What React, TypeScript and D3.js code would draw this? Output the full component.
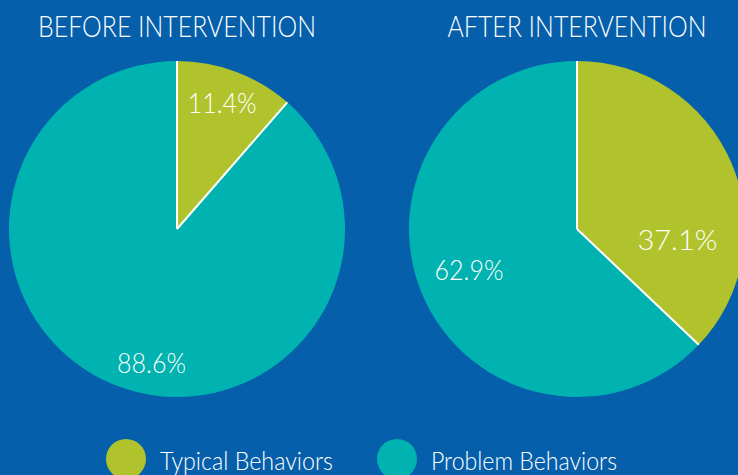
import React, { useEffect, useRef } from "react";
import * as d3 from "d3";

// data
const categories = ["Typical Behaviors", "Problem Behaviors"];
const beforeValues = [11.4, 88.6];
const afterValues = [37.1, 62.9];
const panelTitles = ["BEFORE INTERVENTION", "AFTER INTERVENTION"];

const W = 738;
const H = 475;
const BG = "#055fab";
const colors = ["#b1c32c", "#00b2b0"];
const FONT = "Lato, 'Open Sans', sans-serif";

// labels were hand placed in the original, so keep angle (deg) / radius per label
const labelPlacement = [
  [
    [19.7, 134],
    [190.8, 136],
  ],
  [
    [96.2, 101],
    [249.2, 115.5],
  ],
];

const App = () => {
  const svgRef = useRef<SVGSVGElement | null>(null);

  useEffect(() => {
    document.body.style.margin = "0";
    const svg = d3.select(svgRef.current).attr("width", W).attr("height", H);
    svg.selectAll("*").remove();

    svg.append("rect").attr("width", W).attr("height", H).attr("fill", BG);

    const color = d3.scaleOrdinal<string, string>().domain(categories).range(colors);
    const cx = d3.scaleOrdinal<number, number>().domain([0, 1]).range([177, 577]);
    const cy = 229;
    const radius = 168;

    const pie = d3
      .pie<number>()
      .sort(null)
      .value((d) => d);
    const arc = d3.arc<d3.PieArcDatum<number>>().innerRadius(0).outerRadius(radius);

    [beforeValues, afterValues].forEach((values, p) => {
      const g = svg.append("g").attr("transform", `translate(${cx(p)},${cy})`);
      const arcs = pie(values);

      g.selectAll(".slice")
        .data(arcs)
        .join("path")
        .attr("class", "slice")
        .attr("d", arc)
        .attr("fill", (d, i) => color(categories[i]));

      // white dividers only on the radial edges
      g.selectAll(".divider")
        .data(arcs)
        .join("line")
        .attr("class", "divider")
        .attr("x1", 0)
        .attr("y1", 0)
        .attr("x2", (d) => d3.pointRadial(d.startAngle, radius)[0])
        .attr("y2", (d) => d3.pointRadial(d.startAngle, radius)[1])
        .attr("stroke", "#fff")
        .attr("stroke-width", 2);

      g.selectAll(".pct")
        .data(arcs)
        .join("text")
        .attr("class", "pct")
        .attr("x", (d, i) => {
          const [a, r] = labelPlacement[p][i];
          return d3.pointRadial((a * Math.PI) / 180, r)[0];
        })
        .attr("y", (d, i) => {
          const [a, r] = labelPlacement[p][i];
          return d3.pointRadial((a * Math.PI) / 180, r)[1] + 10;
        })
        .attr("text-anchor", "middle")
        .attr("fill", "#fff")
        .attr("font-family", FONT)
        .attr("font-weight", 300)
        .attr("font-size", 27)
        .attr("textLength", (d) => (d.value >= 20 && d.value < 40 ? 80 : 69))
        .attr("lengthAdjust", "spacingAndGlyphs")
        .text((d) => `${d.value.toFixed(1)}%`);

      svg
        .append("text")
        .attr("x", cx(p))
        .attr("y", 37)
        .attr("text-anchor", "middle")
        .attr("fill", "#fff")
        .attr("font-family", FONT)
        .attr("font-weight", 300)
        .attr("font-size", 29)
        .attr("textLength", p === 0 ? 278 : 259)
        .attr("lengthAdjust", "spacingAndGlyphs")
        .text(panelTitles[p]);
    });

    // legend
    const legendX = d3.scaleLinear().domain([0, 1]).range([126, 397]);
    const legend = svg
      .selectAll(".legend")
      .data(categories)
      .join("g")
      .attr("class", "legend")
      .attr("transform", (d, i) => `translate(${legendX(i)},459)`);

    legend
      .append("circle")
      .attr("r", 20)
      .attr("fill", (d) => color(d));

    legend
      .append("text")
      .attr("x", 34)
      .attr("y", 11)
      .attr("fill", "#fff")
      .attr("font-family", FONT)
      .attr("font-weight", 300)
      .attr("font-size", 25)
      .attr("textLength", (d, i) => (i === 0 ? 173 : 186))
      .attr("lengthAdjust", "spacingAndGlyphs")
      .text((d) => d);
  }, []);

  return (
    <div>
      <svg ref={svgRef}></svg>
    </div>
  );
};

export default App;
